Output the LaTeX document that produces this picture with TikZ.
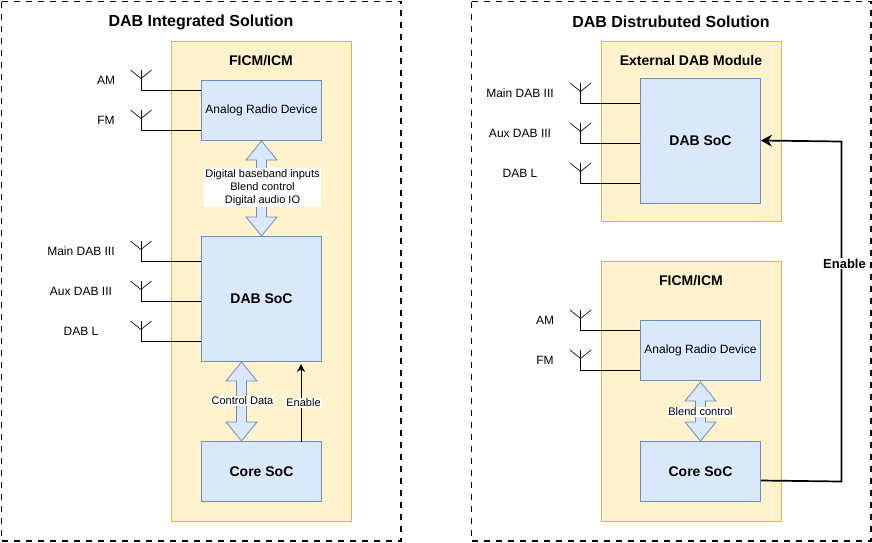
\documentclass[tikz,border=0pt]{standalone}
\usepackage{fontspec}
\setmainfont{Liberation Sans}
\usetikzlibrary{arrows.meta}
\definecolor{bluefill}{HTML}{DAE8FC}
\definecolor{bluedraw}{HTML}{6C8EBF}
\definecolor{yelfill}{HTML}{FFF2CC}
\definecolor{yeldraw}{HTML}{D6B656}
\tikzset{
  x=1pt,y=-1pt,
  outerbox/.style={draw=black,line width=1.7pt,dash pattern=on 6pt off 6pt},
  panel/.style={draw=yeldraw,fill=yelfill,line width=0.7pt},
  blockbox/.style={draw=bluedraw,fill=bluefill,line width=0.8pt,inner sep=0pt,align=center,font=\fontsize{12}{14}\selectfont},
  boldblock/.style={blockbox,font=\fontsize{14}{16}\selectfont\bfseries},
  title/.style={font=\fontsize{16}{19}\selectfont\bfseries,inner sep=0pt},
  subtitle/.style={font=\fontsize{14}{16}\selectfont\bfseries,inner sep=0pt},
  lbl/.style={font=\fontsize{12}{14}\selectfont,inner sep=0pt},
  small/.style={font=\fontsize{11}{13}\selectfont,fill=white,inner sep=1pt,align=center},
  wire/.style={draw=black,line width=0.9pt},
  arm/.style={draw=black!85,line width=0.8pt},
  fatarrow/.style={draw=bluedraw,fill=bluefill,line width=0.8pt,line join=miter},
  enable/.style={draw=black,line width=1.7pt,-{Stealth[length=11pt,width=12pt]}},
}
% antenna: x, top y, wire y, node anchor x
\newcommand{\antenna}[4]{%
  \draw[arm] (#1-10.5,#2) -- (#1,#2+8.5) -- (#1+10.5,#2);
  \draw[wire] (#1,#2) -- (#1,#3) -- (#4,#3);
}
% double arrow: x, y top, y bottom
\newcommand{\fatarrow}[3]{%
  \draw[fatarrow] (#1,#2) -- (#1+15.5,#2+19) -- (#1+5,#2+19) -- (#1+5,#3-19) -- (#1+15.5,#3-19)
    -- (#1,#3) -- (#1-15.5,#3-19) -- (#1-5,#3-19) -- (#1-5,#2+19) -- (#1-15.5,#2+19) -- cycle;
}
\begin{document}
\begin{tikzpicture}
\useasboundingbox (0,0) rectangle (872,542);
% outer boxes
\draw[outerbox] (1.5,1.5) rectangle (401,541);
\draw[outerbox] (471.5,1.5) rectangle (871,541);
\node[title] (t1) at (201,22) {DAB Integrated Solution};
\node[title] (t2) at (671,22) {DAB Distrubuted Solution};
% panels
\draw[panel] (171.5,41.5) rectangle (351.5,521.5);
\draw[panel] (601.5,41.5) rectangle (781.5,221.5);
\draw[panel] (601.5,261.5) rectangle (781.5,521.5);
\node[subtitle] (p1) at (261,61) {FICM/ICM};
\node[subtitle] (p2) at (691,60) {External DAB Module};
\node[subtitle] (p3) at (691,281) {FICM/ICM};
% left antennas
\antenna{141}{70}{90.5}{201.5}
\antenna{141}{110}{130.5}{201.5}
\antenna{141}{241}{261.5}{201.5}
\antenna{141}{281}{301.5}{201.5}
\antenna{141}{321}{341.5}{201.5}
% right antennas
\antenna{580.5}{83}{103}{640.5}
\antenna{580.5}{123}{143}{640.5}
\antenna{580.5}{163}{183}{640.5}
\antenna{580.5}{310}{330.5}{640.5}
\antenna{580.5}{350}{370.5}{640.5}
% blocks
\node[blockbox,minimum width=120pt,minimum height=60pt] (ard1) at (261.5,110.5) {Analog Radio Device};
\node[boldblock,minimum width=120pt,minimum height=125pt] (soc1) at (261.5,299) {DAB SoC};
\node[boldblock,minimum width=120pt,minimum height=60pt] (core1) at (261.5,471.5) {Core SoC};
\node[boldblock,minimum width=120pt,minimum height=125pt] (soc2) at (700.5,140.5) {DAB SoC};
\node[blockbox,minimum width=120pt,minimum height=60pt] (ard2) at (700.5,350.5) {Analog Radio Device};
\node[boldblock,minimum width=120pt,minimum height=60pt] (core2) at (700.5,471.5) {Core SoC};
% fat arrows
\fatarrow{261.5}{141}{236}
\fatarrow{241.5}{362}{441}
\fatarrow{700.5}{382}{441}
\node[small] (l1) at (262.5,187.5) {Digital baseband inputs\\Blend control\\Digital audio IO};
\node[small] (l2) at (242.5,401) {Control Data};
\node[small] (l3) at (700.5,412) {Blend control};
% left enable
\coordinate (e1a) at (301,441.5);
\coordinate (e1b) at (301,364);
\draw[draw=black,line width=0.8pt,-{Stealth[length=8pt,width=8pt]}] (e1a) -- (e1b);
\node[small] (l4) at (303.5,403) {Enable};
% right enable
\coordinate (c1) at (841.5,481.5);
\coordinate (c2) at (841.5,141.5);
\draw[enable] (core2.east |- 0,480.5) -- (c1) -- (c2) -- (soc2.east);
\node[fill=white,inner sep=1pt,font=\fontsize{13}{15}\selectfont\bfseries] (l5) at (844.5,263.5) {Enable};
% text labels
\node[lbl] (a1) at (106,80) {AM};
\node[lbl] (a2) at (106,120) {FM};
\node[lbl] (a3) at (81,251) {Main DAB III};
\node[lbl] (a4) at (81,291) {Aux DAB III};
\node[lbl] (a5) at (81,331) {DAB L};
\node[lbl] (b1) at (520,93) {Main DAB III};
\node[lbl] (b2) at (520,133) {Aux DAB III};
\node[lbl] (b3) at (520,173) {DAB L};
\node[lbl] (b4) at (545,320) {AM};
\node[lbl] (b5) at (545,360) {FM};
\end{tikzpicture}
\end{document}
